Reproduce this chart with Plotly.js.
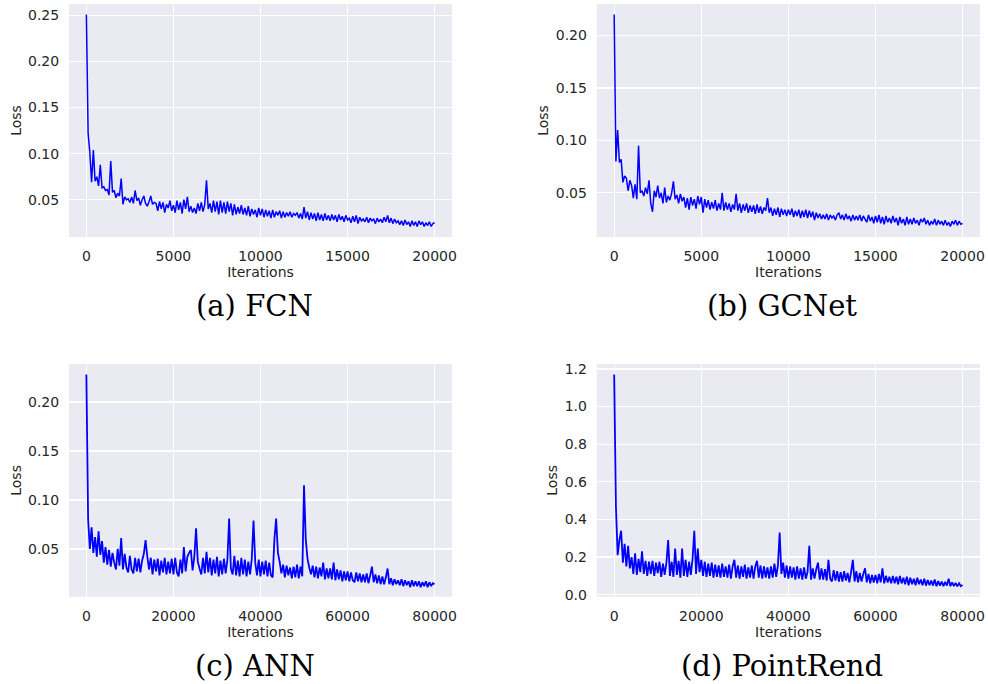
<!DOCTYPE html>
<html>
<head>
<meta charset="utf-8">
<script src="https://cdn.plot.ly/plotly-3.0.1.min.js"></script>
<style>html,body{margin:0;padding:0;background:#fff;}#chart{width:988px;height:684px;}</style>
</head>
<body>
<div id="chart"></div>
<script>
// ---- Data (loss sampled every `step` iterations) ----
const captions = ["(a) FCN", "(b) GCNet", "(c) ANN", "(d) PointRend"];
const stepFCN = 100, stepGCNet = 100, stepANN = 400, stepPointRend = 400;

const lossFCN = [
0.251,0.122,0.101,0.069,0.104,0.070,0.075,0.065,0.088,0.063,
0.064,0.060,0.061,0.055,0.092,0.058,0.060,0.052,0.057,0.054,
0.073,0.045,0.053,0.050,0.051,0.047,0.053,0.046,0.060,0.049,
0.052,0.044,0.050,0.054,0.046,0.043,0.048,0.054,0.045,0.047,
0.046,0.038,0.048,0.040,0.047,0.036,0.045,0.041,0.049,0.038,
0.044,0.036,0.049,0.039,0.047,0.035,0.050,0.040,0.053,0.037,
0.043,0.036,0.041,0.035,0.046,0.038,0.047,0.037,0.045,0.071,
0.040,0.046,0.036,0.049,0.037,0.048,0.034,0.049,0.036,0.047,
0.035,0.048,0.037,0.046,0.033,0.045,0.034,0.042,0.035,0.044,
0.034,0.041,0.033,0.043,0.032,0.040,0.034,0.039,0.031,0.041,
0.033,0.040,0.031,0.039,0.032,0.038,0.030,0.039,0.031,0.037,
0.033,0.038,0.030,0.037,0.031,0.036,0.032,0.037,0.031,0.035,
0.033,0.036,0.030,0.035,0.029,0.042,0.030,0.037,0.028,0.036,
0.029,0.035,0.027,0.036,0.028,0.034,0.027,0.035,0.028,0.033,
0.027,0.034,0.028,0.033,0.026,0.034,0.028,0.032,0.026,0.033,
0.028,0.030,0.025,0.032,0.026,0.033,0.024,0.031,0.027,0.029,
0.026,0.031,0.025,0.030,0.027,0.029,0.024,0.030,0.026,0.029,
0.025,0.031,0.026,0.033,0.025,0.030,0.024,0.029,0.025,0.027,
0.023,0.027,0.022,0.028,0.023,0.026,0.021,0.027,0.022,0.026,
0.021,0.027,0.023,0.026,0.021,0.025,0.022,0.026,0.021,0.024,
0.025];

const lossGCNet = [
0.220,0.080,0.110,0.079,0.082,0.060,0.066,0.064,0.052,0.062,
0.057,0.045,0.058,0.044,0.095,0.050,0.052,0.047,0.055,0.049,
0.062,0.040,0.032,0.052,0.046,0.057,0.045,0.050,0.040,0.055,
0.041,0.047,0.043,0.050,0.061,0.044,0.048,0.040,0.049,0.042,
0.046,0.036,0.045,0.034,0.046,0.038,0.044,0.035,0.047,0.039,
0.046,0.031,0.044,0.036,0.043,0.034,0.041,0.035,0.043,0.033,
0.040,0.034,0.050,0.033,0.041,0.034,0.040,0.032,0.039,0.034,
0.049,0.033,0.040,0.031,0.039,0.033,0.040,0.031,0.038,0.032,
0.038,0.030,0.039,0.031,0.037,0.030,0.036,0.033,0.045,0.031,
0.036,0.028,0.035,0.029,0.036,0.027,0.035,0.029,0.034,0.028,
0.034,0.029,0.035,0.027,0.033,0.028,0.034,0.026,0.033,0.027,
0.034,0.026,0.033,0.027,0.032,0.024,0.031,0.026,0.030,0.025,
0.029,0.025,0.030,0.024,0.029,0.026,0.028,0.024,0.029,0.031,
0.025,0.029,0.024,0.030,0.025,0.028,0.023,0.029,0.024,0.028,
0.024,0.029,0.023,0.028,0.025,0.022,0.029,0.023,0.027,0.021,
0.028,0.022,0.029,0.021,0.027,0.020,0.028,0.022,0.026,0.021,
0.028,0.022,0.026,0.019,0.027,0.021,0.025,0.019,0.027,0.020,
0.025,0.020,0.026,0.021,0.024,0.019,0.025,0.022,0.026,0.020,
0.024,0.019,0.023,0.020,0.025,0.019,0.024,0.020,0.023,0.019,
0.024,0.019,0.022,0.018,0.023,0.020,0.024,0.019,0.023,0.020,
0.021];

const lossANN = [
0.228,0.080,0.050,0.072,0.046,0.062,0.042,0.068,0.044,0.058,
0.036,0.052,0.034,0.049,0.032,0.046,0.036,0.029,0.050,0.033,
0.061,0.029,0.045,0.031,0.026,0.043,0.029,0.025,0.041,0.027,
0.040,0.026,0.038,0.045,0.059,0.042,0.029,0.041,0.024,0.039,
0.027,0.040,0.023,0.038,0.026,0.041,0.024,0.037,0.025,0.040,
0.024,0.041,0.026,0.022,0.039,0.025,0.052,0.027,0.042,0.046,
0.049,0.028,0.042,0.071,0.037,0.030,0.024,0.041,0.025,0.047,
0.026,0.041,0.023,0.039,0.025,0.042,0.022,0.038,0.024,0.040,
0.025,0.039,0.081,0.030,0.024,0.043,0.023,0.038,0.022,0.041,
0.024,0.039,0.022,0.037,0.024,0.040,0.079,0.036,0.023,0.039,
0.022,0.037,0.024,0.038,0.022,0.036,0.023,0.021,0.060,0.081,
0.046,0.037,0.025,0.034,0.021,0.033,0.023,0.031,0.020,0.032,
0.021,0.034,0.020,0.032,0.022,0.115,0.060,0.040,0.031,0.024,
0.033,0.021,0.032,0.020,0.031,0.022,0.036,0.019,0.030,0.020,
0.030,0.019,0.036,0.018,0.029,0.019,0.028,0.017,0.027,0.018,
0.027,0.017,0.026,0.018,0.016,0.026,0.017,0.025,0.016,0.024,
0.016,0.025,0.015,0.023,0.032,0.016,0.024,0.015,0.023,0.014,
0.022,0.014,0.021,0.030,0.014,0.020,0.013,0.019,0.014,0.018,
0.013,0.019,0.012,0.018,0.013,0.017,0.011,0.018,0.012,0.017,
0.012,0.017,0.011,0.016,0.012,0.017,0.011,0.016,0.012,0.015,
0.014];

const lossPointRend = [
1.170,0.470,0.210,0.290,0.340,0.170,0.270,0.150,0.260,0.140,
0.200,0.110,0.220,0.105,0.190,0.120,0.230,0.110,0.180,0.100,
0.175,0.110,0.180,0.100,0.170,0.115,0.175,0.095,0.165,0.105,
0.170,0.290,0.100,0.175,0.095,0.245,0.105,0.180,0.090,0.245,
0.100,0.185,0.095,0.175,0.105,0.190,0.340,0.110,0.245,0.120,
0.185,0.100,0.175,0.095,0.165,0.100,0.170,0.090,0.160,0.095,
0.155,0.090,0.165,0.095,0.150,0.090,0.160,0.085,0.150,0.185,
0.090,0.155,0.085,0.150,0.095,0.160,0.085,0.145,0.090,0.155,
0.085,0.150,0.180,0.090,0.155,0.085,0.150,0.090,0.145,0.085,
0.150,0.090,0.165,0.095,0.155,0.330,0.110,0.170,0.090,0.155,
0.085,0.150,0.090,0.145,0.080,0.150,0.085,0.140,0.080,0.145,
0.085,0.120,0.260,0.080,0.140,0.085,0.135,0.170,0.080,0.140,
0.080,0.135,0.075,0.185,0.085,0.070,0.130,0.075,0.125,0.070,
0.120,0.070,0.125,0.075,0.115,0.065,0.120,0.185,0.070,0.125,
0.065,0.115,0.070,0.110,0.140,0.065,0.110,0.060,0.105,0.065,
0.105,0.060,0.110,0.065,0.140,0.060,0.100,0.065,0.095,0.060,
0.100,0.060,0.095,0.055,0.100,0.060,0.090,0.055,0.095,0.050,
0.090,0.055,0.085,0.050,0.090,0.055,0.080,0.050,0.085,0.048,
0.078,0.050,0.075,0.048,0.080,0.045,0.072,0.048,0.070,0.045,
0.068,0.048,0.085,0.045,0.065,0.046,0.062,0.044,0.060,0.045,
0.052];

// ---- Build figure ----
function iters(vals, step){ return vals.map((_, i) => i * step); }

const thin = {color: '#0000ff', width: 1.5, simplify: false};
const thick = {color: '#0000ff', width: 1.8, simplify: false};
const traces = [
  {x: iters(lossFCN, stepFCN), y: lossFCN, xaxis: 'x', yaxis: 'y', line: thin},
  {x: iters(lossGCNet, stepGCNet), y: lossGCNet, xaxis: 'x2', yaxis: 'y2', line: thin},
  {x: iters(lossANN, stepANN), y: lossANN, xaxis: 'x3', yaxis: 'y3', line: thick},
  {x: iters(lossPointRend, stepPointRend), y: lossPointRend, xaxis: 'x4', yaxis: 'y4', line: thick}
].map(t => Object.assign(t, {type: 'scatter', mode: 'lines', showlegend: false, hoverinfo: 'skip'}));

const tickFont = {family: 'DejaVu Sans, sans-serif', size: 14, color: '#262626'};
const titleFont = {family: 'DejaVu Sans, sans-serif', size: 14, color: '#262626'};
function xax(domain, anchor, range, dtick){
  return {domain: domain, anchor: anchor, range: range, dtick: dtick, tick0: 0, tickformat: 'd',
    showgrid: true, gridcolor: '#ffffff', gridwidth: 1.2, zeroline: false, showline: false,
    ticks: 'outside', ticklen: 6, tickcolor: 'rgba(0,0,0,0)', tickfont: tickFont,
    title: {text: 'Iterations', font: titleFont, standoff: 0}};
}
function yax(domain, anchor, range, dtick, fmt){
  return {domain: domain, anchor: anchor, range: range, dtick: dtick, tick0: 0, tickformat: fmt,
    showgrid: true, gridcolor: '#ffffff', gridwidth: 1.2, zeroline: false, showline: false,
    ticks: 'outside', ticklen: 6, tickcolor: 'rgba(0,0,0,0)', tickfont: tickFont,
    title: {text: 'Loss', font: titleFont, standoff: 3}};
}

const colL = [0.0698, 0.4575], colR = [0.604, 0.9919];
const rowT = [0.6535, 0.9942], rowB = [0.1276, 0.4678];

const capFont = {family: 'DejaVu Serif, serif', size: 29, color: '#000000'};
const capPos = [[0.2575, 0.552], [0.7915, 0.552], [0.2585, 0.0265], [0.792, 0.0265]];
const annotations = captions.map((c, i) => ({text: c, x: capPos[i][0], y: capPos[i][1],
  xref: 'paper', yref: 'paper', xanchor: 'center', yanchor: 'middle', showarrow: false, font: capFont}));

const layout = {
  width: 988, height: 684, autosize: false,
  margin: {l: 0, r: 0, t: 0, b: 0},
  paper_bgcolor: '#ffffff', plot_bgcolor: '#EAEAF2',
  xaxis: xax(colL, 'y', [-1000, 21000], 5000),
  yaxis: yax(rowT, 'x', [0.0095, 0.2625], 0.05, '.2f'),
  xaxis2: xax(colR, 'y2', [-1000, 21000], 5000),
  yaxis2: yax(rowT, 'x2', [0.0079, 0.2301], 0.05, '.2f'),
  xaxis3: xax(colL, 'y3', [-4000, 84000], 20000),
  yaxis3: yax(rowB, 'x3', [0.0012, 0.2388], 0.05, '.2f'),
  xaxis4: xax(colR, 'y4', [-4000, 84000], 20000),
  yaxis4: yax(rowB, 'x4', [-0.011, 1.226], 0.2, '.1f'),
  annotations: annotations
};

Plotly.newPlot('chart', traces, layout, {staticPlot: true, displayModeBar: false});
</script>
</body>
</html>
